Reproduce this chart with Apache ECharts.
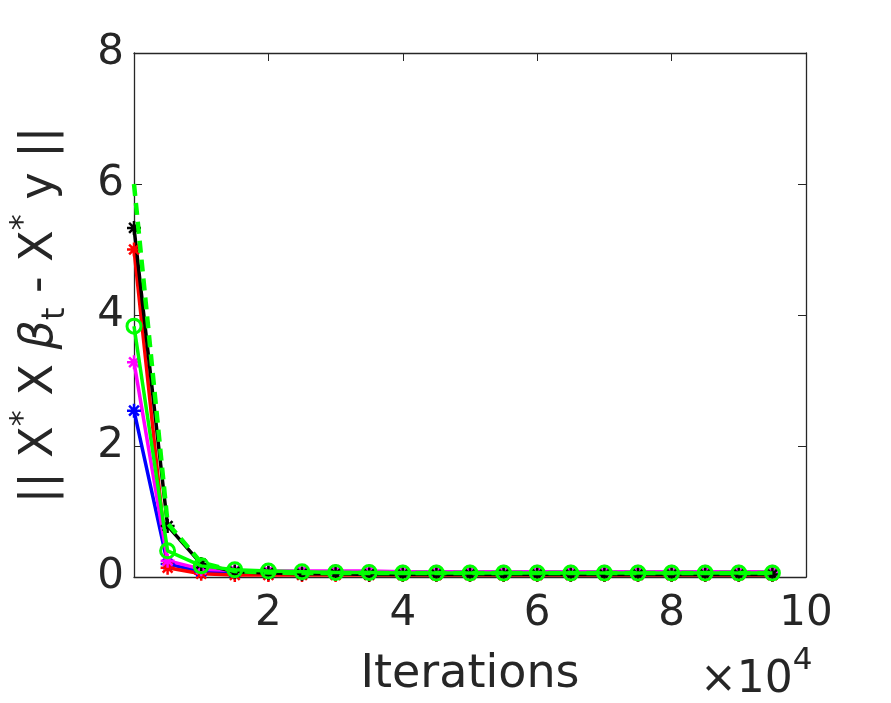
<!DOCTYPE html>
<html>
<head>
<meta charset="utf-8">
<script src="https://cdn.jsdelivr.net/npm/echarts@6/dist/echarts.min.js"></script>
<style>
html,body{margin:0;padding:0;background:#fff;}
#chart{width:891px;height:703px;}
</style>
</head>
<body>
<div id="chart"></div>
<script>
// Iterations (in units of 10^4)
const iterations = [0, 0.5, 1, 1.5, 2, 2.5, 3, 3.5, 4, 4.5, 5, 5.5, 6, 6.5, 7, 7.5, 8, 8.5, 9, 9.5];
const xTicks = [0, 2, 4, 6, 8, 10];
const yTicks = [0, 2, 4, 6, 8];

const blueVals    = [2.54, 0.20, 0.08, 0.06, 0.05, 0.05, 0.05, 0.05, 0.05, 0.05, 0.05, 0.05, 0.05, 0.04, 0.04, 0.04, 0.04, 0.04, 0.04, 0.04];
const magentaVals = [3.28, 0.25, 0.12, 0.10, 0.09, 0.09, 0.09, 0.09, 0.08, 0.08, 0.08, 0.08, 0.08, 0.08, 0.08, 0.08, 0.08, 0.08, 0.08, 0.08];
const redVals     = [5.00, 0.14, 0.05, 0.03, 0.03, 0.03, 0.03, 0.03, 0.03, 0.03, 0.03, 0.03, 0.03, 0.03, 0.03, 0.03, 0.03, 0.03, 0.03, 0.03];
const blackVals   = [5.33, 0.78, 0.20, 0.08, 0.06, 0.05, 0.05, 0.04, 0.04, 0.04, 0.04, 0.04, 0.04, 0.04, 0.04, 0.04, 0.04, 0.04, 0.04, 0.04];
const greenOVals  = [3.83, 0.40, 0.17, 0.11, 0.09, 0.08, 0.07, 0.07, 0.06, 0.06, 0.06, 0.06, 0.06, 0.06, 0.06, 0.06, 0.06, 0.06, 0.06, 0.06];
const greenDVals  = [6.00, 0.82, 0.22, 0.09, 0.07, 0.06, 0.06, 0.06, 0.06, 0.06, 0.06, 0.06, 0.06, 0.06, 0.06, 0.06, 0.06, 0.06, 0.06, 0.06];

const AX = '#262626';
const FONT = 'DejaVu Sans';
const STAR = 'path://M5,0L5,10M0,5L10,5M1.5,1.5L8.5,8.5M1.5,8.5L8.5,1.5';

function pairs(vals){ return iterations.map((x,i)=>[x, vals[i]]); }

function starSeries(color, vals){
  return {
    type:'line', data:pairs(vals), symbol:STAR, symbolSize:14, showSymbol:true,
    lineStyle:{color:color, width:3.5}, itemStyle:{color:'rgba(0,0,0,0)', borderColor:color, borderWidth:2.5},
    emphasis:{disabled:true}, animation:false, z:2
  };
}

const chart = echarts.init(document.getElementById('chart'));
chart.setOption({
  backgroundColor:'#ffffff',
  animation:false,
  grid:{left:132, top:53, width:674, height:526, containLabel:false},
  xAxis:[{
    type:'value', min:0, max:10, interval:2, position:'bottom',
    axisLine:{show:true, onZero:false, lineStyle:{color:AX, width:1.3}},
    axisTick:{show:true, inside:true, length:8, lineStyle:{color:AX, width:1}},
    axisLabel:{show:true, color:AX, fontFamily:FONT, fontSize:42, margin:16,
      formatter:v => v===0 ? '' : String(v)},
    splitLine:{show:false},
    name:'Iterations', nameLocation:'middle', nameGap:75,
    nameTextStyle:{color:AX, fontFamily:FONT, fontSize:46}
  },{
    type:'value', min:0, max:10, interval:2, position:'top',
    axisLine:{show:true, onZero:false, lineStyle:{color:AX, width:1.3}},
    axisTick:{show:true, inside:true, length:8, lineStyle:{color:AX, width:1}},
    axisLabel:{show:false}, splitLine:{show:false}
  }],
  yAxis:[{
    type:'value', min:0, max:8, interval:2, position:'left',
    axisLine:{show:true, onZero:false, lineStyle:{color:AX, width:1.3}},
    axisTick:{show:true, inside:true, length:8, lineStyle:{color:AX, width:1}},
    axisLabel:{show:true, color:AX, fontFamily:FONT, fontSize:42, margin:10},
    splitLine:{show:false},
    name:'{m||| X}{sp|*}{m| X }{b|β}{sb|t}{m| - X}{sp|*}{m| y ||}',
    nameLocation:'middle', nameRotate:90, nameGap:62,
    nameTextStyle:{
      color:AX, fontFamily:FONT, fontSize:46,
      rich:{
        m:{fontFamily:FONT, fontSize:46, color:AX, lineHeight:64, verticalAlign:'middle'},
        b:{fontFamily:FONT, fontSize:46, fontStyle:'italic', color:AX, lineHeight:64, verticalAlign:'middle'},
        sp:{fontFamily:FONT, fontSize:32, color:AX, lineHeight:64, verticalAlign:'top'},
        sb:{fontFamily:FONT, fontSize:32, color:AX, lineHeight:64, verticalAlign:'bottom'}
      }
    }
  },{
    type:'value', min:0, max:8, interval:2, position:'right',
    axisLine:{show:true, onZero:false, lineStyle:{color:AX, width:1.3}},
    axisTick:{show:true, inside:true, length:8, lineStyle:{color:AX, width:1}},
    axisLabel:{show:false}, splitLine:{show:false}
  }],
  graphic:[{
    type:'text', left:700, top:645,
    style:{
      text:'{a|×10}{b|4}',
      rich:{
        a:{fontFamily:FONT, fontSize:44, fill:AX, color:AX, lineHeight:58, verticalAlign:'bottom'},
        b:{fontFamily:FONT, fontSize:31, fill:AX, color:AX, lineHeight:58, verticalAlign:'top'}
      }
    }
  }],
  series:[
    starSeries('#0000ff', blueVals),
    starSeries('#ff0000', redVals),
    starSeries('#ff00ff', magentaVals),
    starSeries('#000000', blackVals),
    {
      type:'line', data:pairs(greenOVals), symbol:'circle', symbolSize:14, showSymbol:true,
      lineStyle:{color:'#00ff00', width:3.5},
      itemStyle:{color:'rgba(0,0,0,0)', borderColor:'#00ff00', borderWidth:3},
      emphasis:{disabled:true}, animation:false, z:3
    },
    {
      type:'line', data:pairs(greenDVals), symbol:'none', showSymbol:false,
      lineStyle:{color:'#00ff00', width:4.5, type:[12,7]},
      emphasis:{disabled:true}, animation:false, z:4
    }
  ]
});
</script>
</body>
</html>
